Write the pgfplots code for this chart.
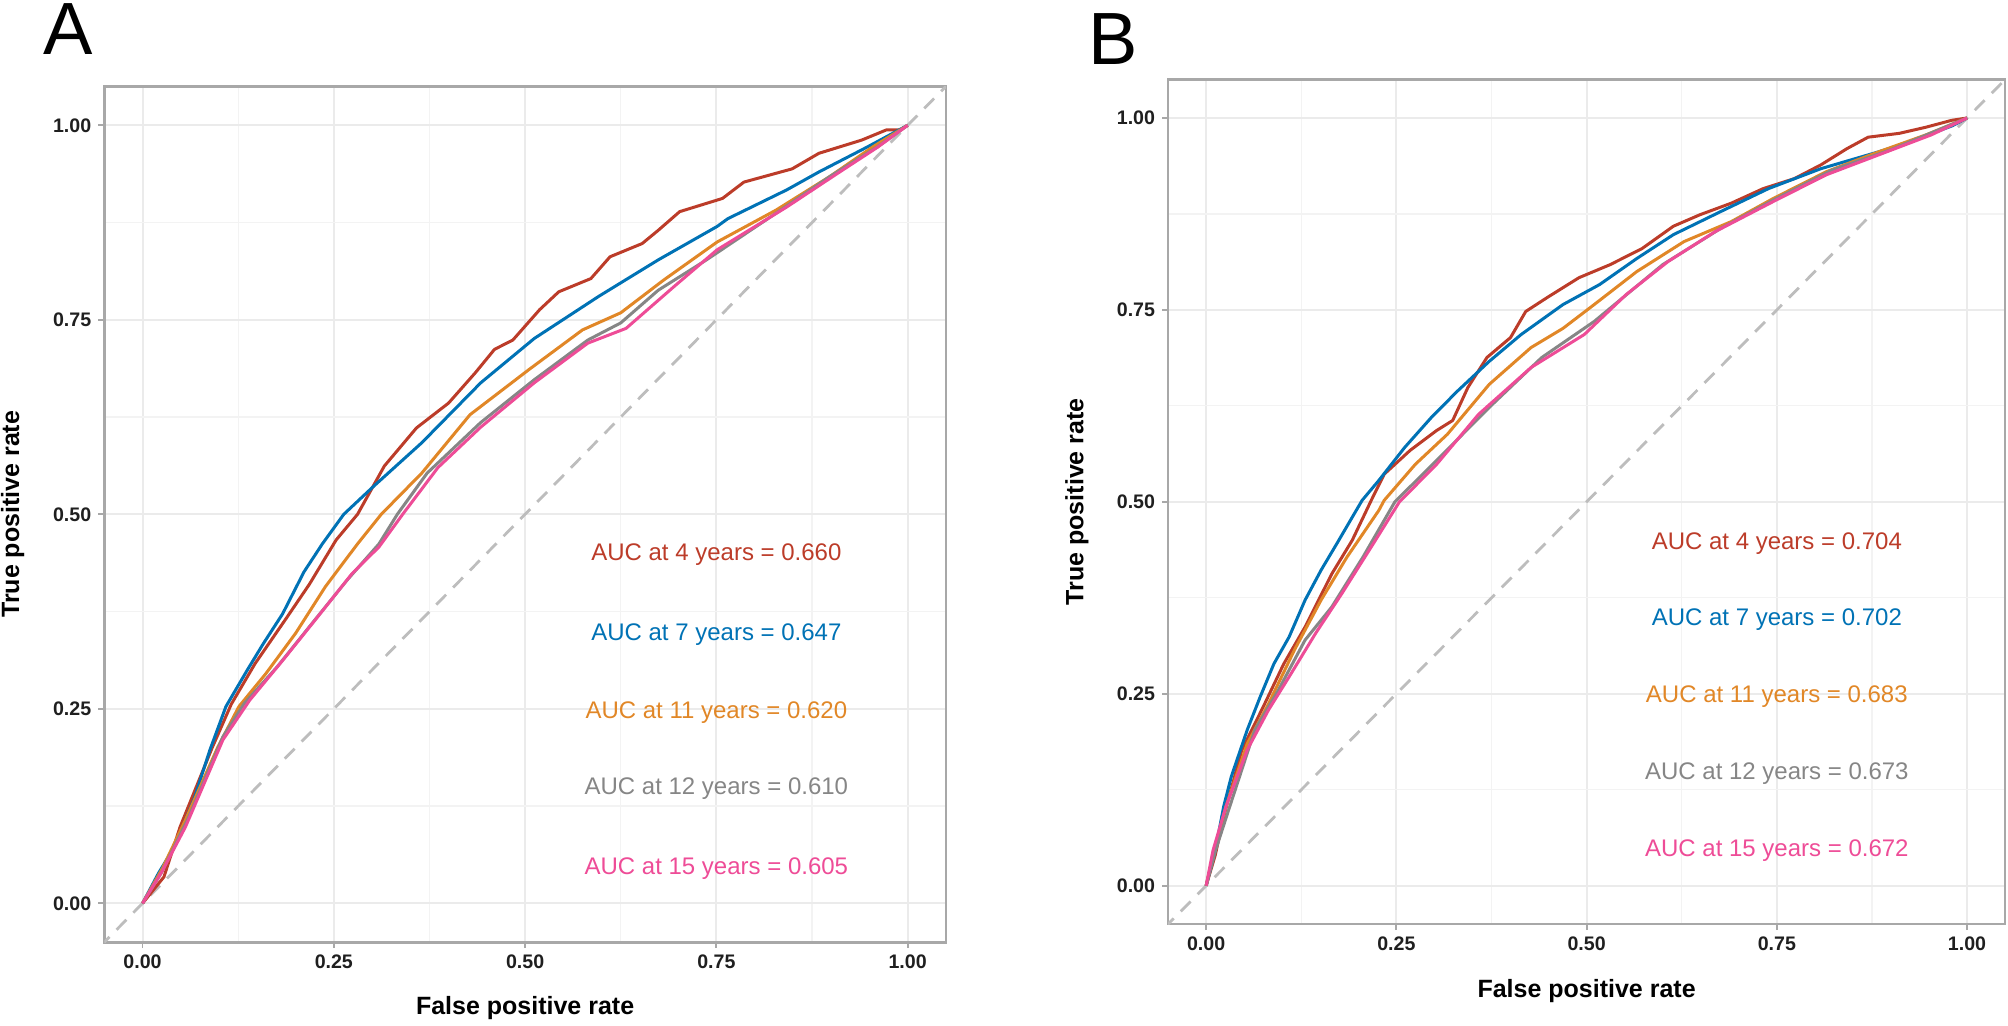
\documentclass[border=0pt]{standalone}
\usepackage{pgfplots}
\pgfplotsset{compat=1.18}
\usepackage{fontspec}
\setmainfont{Liberation Sans}

\definecolor{c4}{HTML}{BC3C29}
\definecolor{c7}{HTML}{0072B5}
\definecolor{c11}{HTML}{E18727}
\definecolor{c12}{HTML}{868686}
\definecolor{c15}{HTML}{EE4C97}
\definecolor{gridmaj}{HTML}{EBEBEB}
\definecolor{gridmin}{HTML}{F3F3F3}
\definecolor{frame}{HTML}{A8A8A8}
\definecolor{diag}{HTML}{BDBDBD}

\tikzset{auc/.style={font=\fontsize{12}{14}\selectfont, text=#1}}

\pgfplotsset{
  roc/.style={
    scale only axis,
    xmin=-0.05, xmax=1.05, ymin=-0.05, ymax=1.05,
    xtick={0,0.25,0.5,0.75,1}, ytick={0,0.25,0.5,0.75,1},
    minor xtick={0.125,0.375,0.625,0.875},
    minor ytick={0.125,0.375,0.625,0.875},
    grid=both,
    major grid style={draw=gridmaj, line width=1pt},
    minor grid style={draw=gridmin, line width=0.6pt},
    axis line style={draw=frame, line width=1.3pt},
    tick align=outside, xtick pos=lower, ytick pos=left,
    major tick length=3pt, minor tick length=0pt,
    tick style={draw=frame, line width=0.9pt},
    xticklabel={\pgfmathprintnumber[fixed,fixed zerofill,precision=2,assume math mode=true]{\tick}},
    yticklabel={\pgfmathprintnumber[fixed,fixed zerofill,precision=2,assume math mode=true]{\tick}},
    ticklabel style={font=\fontsize{9.8}{11}\selectfont\bfseries, text=black!88},
    xlabel={False positive rate}, ylabel={True positive rate},
    label style={font=\fontsize{12.5}{14}\selectfont\bfseries},
    every axis plot/.append style={line width=1.5pt, line join=round, no markers},
  },
}

\begin{document}
\begin{tikzpicture}
\path[use as bounding box] (0,0) rectangle (1004pt,-513pt);

% ---------------- panel A ----------------
\begin{axis}[roc,
  at={(52.15pt,-471.1pt)}, anchor=south west,
  width=420.8pt, height=427.9pt,
  xlabel style={at={(axis description cs:0.5,-0.077)}, anchor=center},
  ylabel style={at={(axis description cs:-0.109,0.5)}, anchor=center},
]
\addplot[diag, line width=1.4pt, dash pattern=on 7pt off 5pt] coordinates {(-0.1,-0.1) (1.1,1.1)};
% 4 years
\addplot[c4] coordinates {
(0,0) (0.028,0.034) (0.049,0.098) (0.091,0.20) (0.116,0.256) (0.147,0.308) (0.189,0.368)
(0.218,0.41) (0.253,0.467) (0.281,0.50) (0.316,0.562) (0.358,0.611) (0.40,0.643) (0.435,0.682)
(0.46,0.712) (0.484,0.724) (0.519,0.763) (0.544,0.786) (0.586,0.803) (0.611,0.831) (0.653,0.848)
(0.674,0.865) (0.702,0.889) (0.758,0.906) (0.786,0.927) (0.849,0.944) (0.884,0.964) (0.94,0.981)
(0.972,0.994) (0.99,0.994) (1,1)};
% 7 years
\addplot[c7] coordinates {
(0,0) (0.021,0.039) (0.042,0.073) (0.067,0.133) (0.088,0.197) (0.109,0.253) (0.137,0.30)
(0.158,0.334) (0.183,0.372) (0.211,0.426) (0.235,0.462) (0.263,0.50) (0.302,0.536) (0.365,0.592)
(0.442,0.669) (0.512,0.726) (0.596,0.78) (0.674,0.827) (0.751,0.87) (0.765,0.88) (0.842,0.917)
(0.884,0.94) (0.947,0.972) (1,1)};
% 11 years
\addplot[c11] coordinates {
(0,0) (0.026,0.045) (0.056,0.107) (0.098,0.20) (0.126,0.253) (0.161,0.295) (0.20,0.347)
(0.239,0.407) (0.281,0.462) (0.312,0.50) (0.365,0.553) (0.428,0.628) (0.505,0.686) (0.575,0.737)
(0.625,0.759) (0.681,0.801) (0.751,0.85) (0.828,0.891) (0.898,0.934) (0.954,0.972) (1,1)};
% 12 years
\addplot[c12] coordinates {
(0,0) (0.025,0.04) (0.06,0.11) (0.105,0.214) (0.133,0.257) (0.176,0.304) (0.225,0.364)
(0.267,0.415) (0.309,0.462) (0.333,0.50) (0.372,0.553) (0.442,0.618) (0.512,0.673) (0.582,0.724)
(0.625,0.746) (0.674,0.788) (0.737,0.827) (0.828,0.887) (0.898,0.934) (0.96,0.972) (1,1)};
% 15 years
\addplot[c15] coordinates {
(0,0) (0.025,0.04) (0.056,0.098) (0.105,0.21) (0.14,0.261) (0.183,0.312) (0.232,0.372)
(0.274,0.424) (0.309,0.458) (0.34,0.50) (0.386,0.56) (0.442,0.612) (0.512,0.669) (0.582,0.72)
(0.632,0.739) (0.695,0.793) (0.751,0.84) (0.842,0.895) (0.905,0.936) (0.961,0.972) (1,1)};

\node[auc=c4]  at (axis cs:0.75,0.448) {AUC at 4 years = 0.660};
\node[auc=c7]  at (axis cs:0.75,0.346) {AUC at 7 years = 0.647};
\node[auc=c11] at (axis cs:0.75,0.245) {AUC at 11 years = 0.620};
\node[auc=c12] at (axis cs:0.75,0.147) {AUC at 12 years = 0.610};
\node[auc=c15] at (axis cs:0.75,0.045) {AUC at 15 years = 0.605};
\end{axis}

% ---------------- panel B ----------------
\begin{axis}[roc,
  at={(584.05pt,-462.05pt)}, anchor=south west,
  width=418.5pt, height=422.25pt,
  xlabel style={at={(axis description cs:0.5,-0.079)}, anchor=center},
  ylabel style={at={(axis description cs:-0.109,0.5)}, anchor=center},
]
\addplot[diag, line width=1.4pt, dash pattern=on 7pt off 5pt] coordinates {(-0.1,-0.1) (1.1,1.1)};
% 4 years
\addplot[c4] coordinates {
(0,0) (0.012,0.04) (0.023,0.09) (0.047,0.177) (0.075,0.233) (0.102,0.289) (0.13,0.337)
(0.165,0.406) (0.192,0.45) (0.217,0.502) (0.234,0.536) (0.268,0.567) (0.303,0.593) (0.324,0.606)
(0.344,0.649) (0.369,0.688) (0.40,0.714) (0.42,0.748) (0.448,0.766) (0.49,0.792) (0.531,0.809)
(0.573,0.83) (0.614,0.859) (0.649,0.874) (0.69,0.889) (0.732,0.908) (0.773,0.921) (0.808,0.939)
(0.842,0.96) (0.87,0.975) (0.911,0.98) (0.946,0.988) (0.98,0.997) (1,1)};
% 7 years
\addplot[c7] coordinates {
(0,0) (0.012,0.046) (0.023,0.103) (0.033,0.142) (0.054,0.203) (0.071,0.246) (0.089,0.289)
(0.109,0.324) (0.13,0.372) (0.151,0.411) (0.172,0.446) (0.192,0.48) (0.205,0.502) (0.227,0.528)
(0.261,0.571) (0.296,0.61) (0.33,0.644) (0.372,0.683) (0.414,0.718) (0.469,0.757) (0.517,0.783)
(0.566,0.817) (0.614,0.848) (0.676,0.878) (0.739,0.908) (0.808,0.934) (0.884,0.956) (0.925,0.969)
(0.981,0.99) (1,1)};
% 11 years
\addplot[c11] coordinates {
(0,0) (0.01,0.045) (0.026,0.103) (0.054,0.185) (0.082,0.237) (0.116,0.307) (0.151,0.372)
(0.185,0.428) (0.227,0.489) (0.234,0.502) (0.275,0.549) (0.317,0.588) (0.372,0.653) (0.427,0.701)
(0.469,0.726) (0.51,0.757) (0.566,0.8) (0.628,0.839) (0.69,0.865) (0.745,0.895) (0.815,0.93)
(0.884,0.956) (0.946,0.978) (1,1)};
% 12 years
\addplot[c12] coordinates {
(0,0) (0.012,0.045) (0.03,0.10) (0.064,0.203) (0.095,0.255) (0.13,0.32) (0.165,0.363)
(0.206,0.428) (0.248,0.50) (0.303,0.554) (0.372,0.623) (0.441,0.688) (0.51,0.735) (0.60,0.809)
(0.676,0.856) (0.745,0.893) (0.822,0.932) (0.898,0.958) (1,1)};
% 15 years
\addplot[c15] coordinates {
(0,0) (0.009,0.046) (0.026,0.103) (0.054,0.177) (0.082,0.229) (0.109,0.272) (0.144,0.329)
(0.178,0.38) (0.22,0.446) (0.254,0.50) (0.303,0.549) (0.358,0.614) (0.427,0.675) (0.497,0.718)
(0.552,0.77) (0.607,0.813) (0.669,0.852) (0.745,0.891) (0.815,0.926) (0.884,0.952) (0.953,0.978)
(1,1)};

\node[auc=c4]  at (axis cs:0.75,0.446) {AUC at 4 years = 0.704};
\node[auc=c7]  at (axis cs:0.75,0.347) {AUC at 7 years = 0.702};
\node[auc=c11] at (axis cs:0.75,0.246) {AUC at 11 years = 0.683};
\node[auc=c12] at (axis cs:0.75,0.146) {AUC at 12 years = 0.673};
\node[auc=c15] at (axis cs:0.75,0.046) {AUC at 15 years = 0.672};
\end{axis}

\node[anchor=base west, inner sep=0, font=\fontsize{37}{40}\selectfont] at (21.5pt,-27.5pt) {A};
\node[anchor=base west, inner sep=0, font=\fontsize{37}{40}\selectfont] at (543.8pt,-32.5pt) {B};
\end{tikzpicture}
\end{document}
